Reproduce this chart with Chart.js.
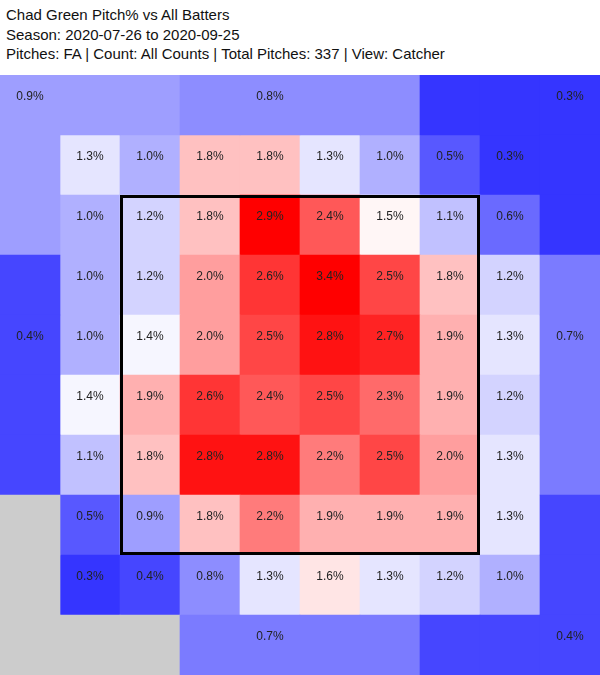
<!DOCTYPE html>
<html>
<head>
<meta charset="utf-8">
<script src="https://cdn.jsdelivr.net/npm/chart.js@4"></script>
<style>
  body { margin: 0; background: #fff; }
  #title {
    position: absolute; left: 6px; top: 5px;
    font: 15px "Liberation Sans", Arial, sans-serif;
    line-height: 19.5px; color: #111;
  }
  #wrap { position: absolute; left: 0; top: 75px; width: 600px; height: 600px; }
</style>
</head>
<body>
<div id="title">Chad Green Pitch% vs All Batters<br>Season: 2020-07-26 to 2020-09-25<br>Pitches: FA | Count: All Counts | Total Pitches: 337 | View: Catcher</div>
<div id="wrap"><canvas id="zoneChart" width="600" height="600"></canvas></div>
<script>
// Pitch% per inner cell, catcher's view, top row first
const zoneRows = [
    [1.3, 1.0, 1.8, 1.8, 1.3, 1.0, 0.5, 0.3],
    [1.0, 1.2, 1.8, 2.9, 2.4, 1.5, 1.1, 0.6],
    [1.0, 1.2, 2.0, 2.6, 3.4, 2.5, 1.8, 1.2],
    [1.0, 1.4, 2.0, 2.5, 2.8, 2.7, 1.9, 1.3],
    [1.4, 1.9, 2.6, 2.4, 2.5, 2.3, 1.9, 1.2],
    [1.1, 1.8, 2.8, 2.8, 2.2, 2.5, 2.0, 1.3],
    [0.5, 0.9, 1.8, 2.2, 1.9, 1.9, 1.9, 1.3],
    [0.3, 0.4, 0.8, 1.3, 1.6, 1.3, 1.2, 1.0]
];

// outer (chase) regions, null = no pitches
const outerNames = ['topLeft', 'top', 'topRight', 'left', 'right', 'bottomLeft', 'bottom', 'bottomRight'];
const outerValues = [0.9, 0.8, 0.3, 0.4, 0.7, null, 0.7, 0.4];

// grid layout: 10 x 10 cells [col, row], inner cells sit at 1..8
const outerLayout = {
    topLeft:     { label: [0, 0], cells: [[0, 0], [1, 0], [2, 0], [0, 1], [0, 2]] },
    top:         { label: [4, 0], cells: [[3, 0], [4, 0], [5, 0], [6, 0]] },
    topRight:    { label: [9, 0], cells: [[7, 0], [8, 0], [9, 0], [9, 1], [9, 2]] },
    left:        { label: [0, 4], cells: [[0, 3], [0, 4], [0, 5], [0, 6]] },
    right:       { label: [9, 4], cells: [[9, 3], [9, 4], [9, 5], [9, 6]] },
    bottomLeft:  { label: [0, 9], cells: [[0, 7], [0, 8], [0, 9], [1, 9], [2, 9]] },
    bottom:      { label: [4, 9], cells: [[3, 9], [4, 9], [5, 9], [6, 9]] },
    bottomRight: { label: [9, 9], cells: [[9, 7], [9, 8], [7, 9], [8, 9], [9, 9]] }
};
const strikeZone = { left: 2, right: 8, top: 2, bottom: 8 };

// blue-white-red scale, 0% -> blue, 2.9% and up -> red
function heat(v) {
    if (v === null) return '#cccccc';
    const t = Math.max(0, Math.min(1, v / 2.9));
    if (t < 0.5) {
        const c = Math.round(510 * t);
        return 'rgb(' + c + ',' + c + ',255)';
    }
    const c = Math.round(255 * (2 - 2 * t));
    return 'rgb(255,' + c + ',' + c + ')';
}

const cells = [];
const colors = [];
const labels = [];

zoneRows.forEach((row, r) => {
    row.forEach((v, c) => {
        cells.push({ x: c + 1.5, y: [r + 1, r + 2] });
        colors.push(heat(v));
        labels.push({ col: c + 1, row: r + 1, v: v });
    });
});

outerNames.forEach((name, i) => {
    const region = outerLayout[name];
    region.cells.forEach(([c, r]) => {
        cells.push({ x: c + 0.5, y: [r, r + 1] });
        colors.push(heat(outerValues[i]));
    });
    if (outerValues[i] !== null) {
        labels.push({ col: region.label[0], row: region.label[1], v: outerValues[i] });
    }
});

// percent text and strike zone box
const cellText = {
    id: 'cellText',
    afterDatasetsDraw(chart) {
        const { ctx, scales: { x, y } } = chart;
        ctx.save();
        ctx.font = '12px "Liberation Sans", Arial, sans-serif';
        ctx.fillStyle = '#222';
        ctx.textAlign = 'center';
        ctx.textBaseline = 'alphabetic';
        labels.forEach(l => {
            ctx.fillText(l.v.toFixed(1) + '%', x.getPixelForValue(l.col + 0.5), y.getPixelForValue(l.row + 0.5) - 5);
        });

        const x0 = x.getPixelForValue(strikeZone.left);
        const x1 = x.getPixelForValue(strikeZone.right);
        const y0 = y.getPixelForValue(strikeZone.top);
        const y1 = y.getPixelForValue(strikeZone.bottom);
        ctx.lineWidth = 3;
        ctx.strokeStyle = '#000';
        ctx.strokeRect(x0 + 1.5, y0 + 1.5, x1 - x0 - 3, y1 - y0 - 3);
        ctx.restore();
    }
};

const ctx = document.getElementById('zoneChart').getContext('2d');
const zoneChart = new Chart(ctx, {
    type: 'bar',
    data: {
        datasets: [{
            label: 'Pitch%',
            data: cells,
            backgroundColor: colors,
            borderWidth: 0,
            barPercentage: 1,
            categoryPercentage: 1
        }]
    },
    options: {
        responsive: false,
        animation: false,
        events: [],
        layout: { padding: 0 },
        plugins: {
            legend: { display: false },
            tooltip: { enabled: false }
        },
        scales: {
            x: { type: 'linear', min: 0, max: 10, offset: false, display: false, ticks: { stepSize: 1 } },
            y: { type: 'linear', min: 0, max: 10, reverse: true, display: false, ticks: { stepSize: 1 } }
        }
    },
    plugins: [cellText]
});
</script>
</body>
</html>
